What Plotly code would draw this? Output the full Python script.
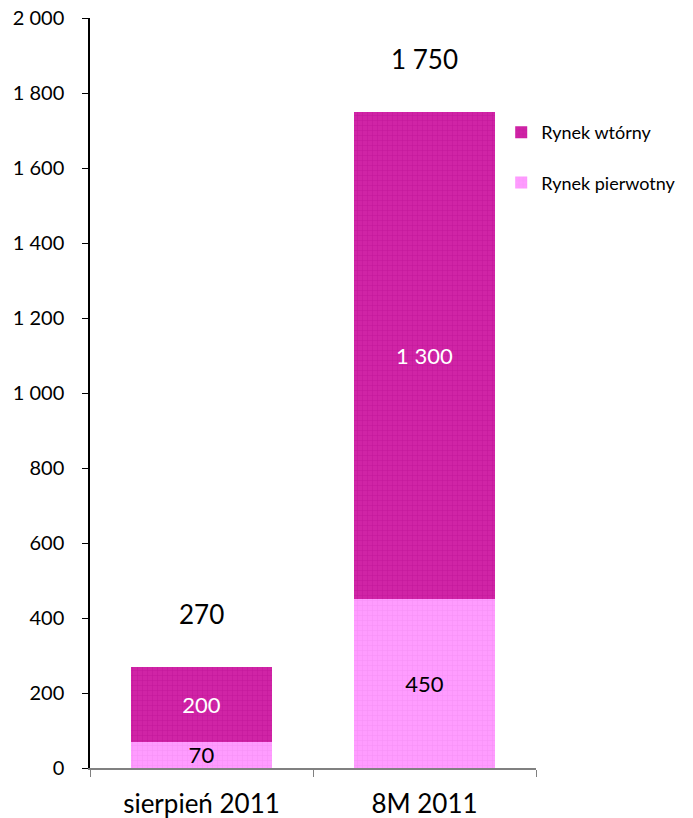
import plotly.graph_objects as go

categories = ["sierpień 2011", "8M 2011"]
pierwotny = [70, 450]
wtorny = [200, 1300]
totals = [a + b for a, b in zip(pierwotny, wtorny)]
y_ticks = list(range(0, 2001, 200))

FONT = "Lato"

fig = go.Figure()
fig.add_trace(go.Bar(
    x=categories, y=pierwotny, name="Rynek pierwotny", legendgroup="p", legendrank=2,
    marker=dict(color="#FF9CFF", line=dict(width=0),
                pattern=dict(shape="+", fgcolor="#F088F0", size=5, solidity=0.25)),
    texttemplate="%{y:,d}", textposition="inside", insidetextanchor="middle",
    textangle=0, constraintext="none",
    textfont=dict(size=22, color="black", family=FONT),
    width=0.635,
))
fig.add_trace(go.Bar(
    x=categories, y=wtorny, name="Rynek wtórny", legendgroup="w", legendrank=1,
    marker=dict(color="#D024A6", line=dict(width=0),
                pattern=dict(shape="+", fgcolor="#B80E92", size=5, solidity=0.25)),
    texttemplate="%{y:,d}", textposition="inside", insidetextanchor="middle",
    textangle=0, constraintext="none",
    textfont=dict(size=22, color="white", family=FONT),
    width=0.635,
))

for c, t in zip(categories, totals):
    fig.add_annotation(x=c, y=t, text=f"{t:,}".replace(",", " "), showarrow=False,
                       yshift=53, font=dict(size=26, color="black", family=FONT))

fig.update_layout(
    barmode="stack",
    width=693, height=818,
    margin=dict(l=90, r=155, t=18, b=50),
    plot_bgcolor="white", paper_bgcolor="white",
    separators=", ",
    showlegend=True,
    legend=dict(x=0.922, y=0.872, xanchor="left", yanchor="top",
                traceorder="grouped", tracegroupgap=24,
                font=dict(size=18, family=FONT, color="black"),
                itemwidth=30, bgcolor="rgba(0,0,0,0)"),
    font=dict(family=FONT, color="black"),
)
fig.update_yaxes(range=[0, 2000], tickvals=y_ticks, tickformat=",d", automargin=False,
                 showgrid=False, zeroline=False, showline=True, linecolor="black",
                 linewidth=1.5, ticks="outside", ticklen=6, tickcolor="black",
                 ticklabelstandoff=14, ticklabeloverflow="allow",
                 tickfont=dict(size=20, family=FONT, color="black"))
fig.update_xaxes(showgrid=False, showline=True, linecolor="#808080", linewidth=1.5,
                 automargin=False,
                 ticks="outside", tickson="boundaries", ticklen=7, tickcolor="#808080",
                 ticklabelstandoff=12,
                 tickfont=dict(size=26, family=FONT, color="black"))

fig.write_html("out.html", config={"displayModeBar": False},
               post_script="document.body.style.margin='0';")
